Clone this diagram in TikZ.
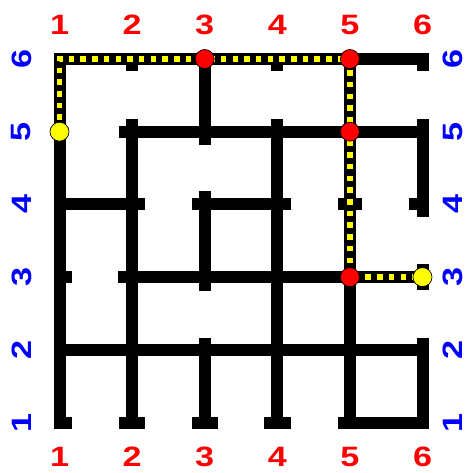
\documentclass[tikz,border=0pt]{standalone}
\usepackage{fontspec}
\setmainfont{Liberation Sans}
\definecolor{lblred}{RGB}{255,0,0}
\definecolor{lblblue}{RGB}{0,0,255}
\definecolor{pathyellow}{RGB}{255,255,0}
\definecolor{dotred}{RGB}{255,0,0}
\tikzset{
  wall/.style={line width=12pt, line cap=rect, line join=miter, black},
  trail/.style={line width=5.5pt, line cap=butt, line join=miter, pathyellow, dash pattern=on 5.5pt off 6.2pt},
  reddot/.style={circle, draw=black, line width=0.7pt, fill=dotred, minimum size=19pt, inner sep=0pt},
  yeldot/.style={circle, draw=black, line width=0.7pt, fill=pathyellow, minimum size=19pt, inner sep=0pt},
  collabel/.style={text=lblred, font=\bfseries\fontsize{28}{28}\selectfont, inner sep=0pt},
  rowlabel/.style={text=lblblue, font=\bfseries\fontsize{28}{28}\selectfont, inner sep=0pt, rotate=90}
}
\newcommand{\wdigit}[1]{\scalebox{1.22}[1]{#1}}
\begin{document}
\begin{tikzpicture}[x=1pt,y=-1pt]
\useasboundingbox (0,0) rectangle (469,473);
\foreach \i in {1,...,6}{
  \foreach \j in {1,...,6}{
    \coordinate (c\i\j) at ({59.5+72.6*(\i-1)},{422.5-72.7*(\j-1)});
  }
}
% walls
\draw[wall] (c16) -- (c66);
\draw[wall] (c16) -- (c11);
\draw[wall] (c36) -- (c35) -- ([yshift=-7pt]c35);
\draw[wall] (c56) -- (c51);
\draw[wall] ([xshift=-7pt]c25) -- (c65);
\draw[wall] ([yshift=7pt]c25) -- (c21);
\draw[wall] ([yshift=7pt]c45) -- (c41);
\draw[wall] ([yshift=7pt]c65) -- ([yshift=-6.5pt]c64);
\draw[wall] ([xshift=-8pt]c64) -- (c64);
\draw[wall] (c14) -- ([xshift=7pt]c24);
\draw[wall] ([xshift=-7pt]c34) -- ([xshift=8pt]c44);
\draw[wall] ([yshift=7pt]c34) -- ([yshift=-8pt]c33);
\draw[wall] ([xshift=-6pt]c54) -- ([xshift=6pt]c54);
\draw[wall] ([xshift=-8pt]c23) -- (c53) -- (c63);
\draw[wall] (c13) -- ([xshift=6pt]c13);
\draw[wall] ([yshift=7pt]c63) -- ([yshift=-7pt]c63);
\draw[wall] (c12) -- (c62);
\draw[wall] ([yshift=6pt]c32) -- (c31);
\draw[wall] ([xshift=-7pt]c21) -- ([xshift=7pt]c21);
\draw[wall] ([xshift=-7pt]c31) -- ([xshift=7pt]c31);
\draw[wall] ([xshift=-7pt]c41) -- ([xshift=8pt]c41);
\draw[wall] ([xshift=-6pt]c51) -- (c61) -- ([yshift=6pt]c62);
\draw[wall] (c11) -- ([xshift=6pt]c11);
\draw[wall] (c26) -- ([yshift=-6pt]c26);
\draw[wall] (c46) -- ([yshift=-6pt]c46);
\draw[wall] (c66) -- ([yshift=-6pt]c66);
% path
\draw[trail] (c15) -- (c16) -- (c56) -- (c53) -- (c63);
% dots
\node[yeldot] (p1) at (c15) {};
\node[reddot] (p2) at (c36) {};
\node[reddot] (p3) at (c56) {};
\node[reddot] (p4) at (c55) {};
\node[reddot] (p5) at (c53) {};
\node[yeldot] (p6) at (c63) {};
% labels
\foreach \i in {1,...,6}{
  \node[collabel] (t\i) at ({59.5+72.6*(\i-1)},25) {\wdigit{\i}};
  \node[collabel] (b\i) at ({59.5+72.6*(\i-1)},457) {\wdigit{\i}};
  \node[rowlabel] (l\i) at (21.5,{422.5-72.7*(\i-1)}) {\wdigit{\i}};
  \node[rowlabel] (r\i) at (453,{422.5-72.7*(\i-1)}) {\wdigit{\i}};
}
\end{tikzpicture}
\end{document}
